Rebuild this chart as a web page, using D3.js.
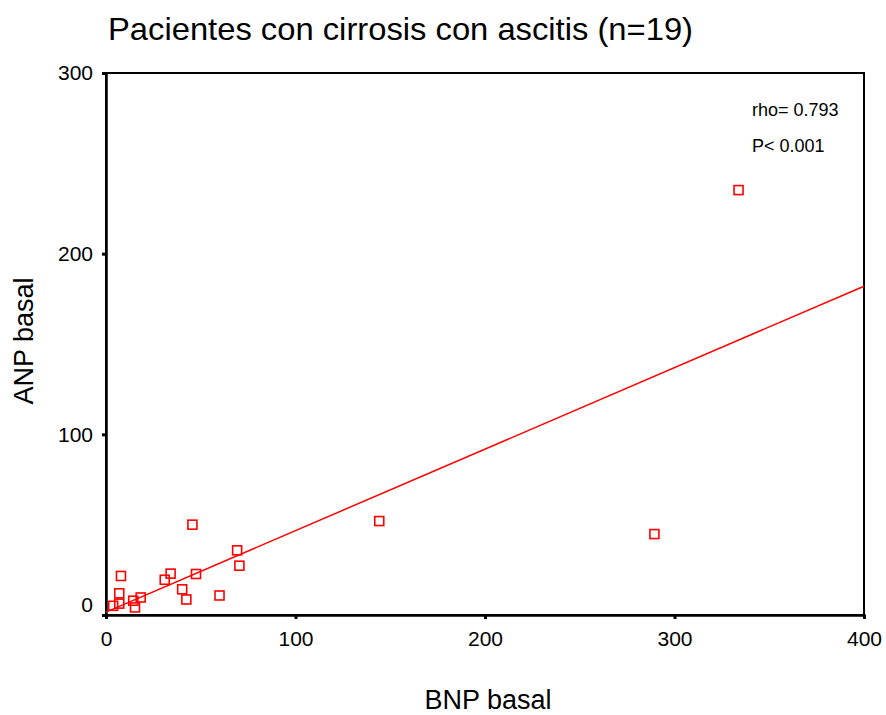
<!DOCTYPE html>
<html><head><meta charset="utf-8">
<script src="https://cdn.jsdelivr.net/npm/d3@7"></script>
<style>body{margin:0;background:#fff}text{font-family:"Liberation Sans",Arial,sans-serif}</style>
</head><body><svg id="c" width="886" height="715"></svg>
<script>
const bnp = [45.6, 69.2, 70.4, 7.9, 34.1, 31.0, 47.5, 40.2, 42.4, 59.9, 7.0, 18.3, 14.4, 15.3, 7.0, 3.8, 333.8, 289.4, 144.2];
const anp = [50.0, 35.8, 27.3, 21.6, 22.9, 19.5, 22.7, 14.2, 8.6, 10.8, 12.0, 9.7, 7.9, 4.2, 6.3, 5.1, 235.2, 44.8, 52.0];
const xTicks = [0, 100, 200, 300, 400];
const yTicks = [0, 100, 200, 300];
const fitIntercept = 1.6, fitSlope = 0.451;
const title = "Pacientes con cirrosis con ascitis (n=19)";
const stats = ["rho= 0.793", "P< 0.001"];

const svg = d3.select("#c");
const L = 106, R = 864, T = 73, B = 615;
const x = d3.scaleLinear().domain([0, 400]).range([L, R]);
const y = d3.scaleLinear().domain([0, 300]).range([B, T]);

svg.append("text").attr("x", 108).attr("y", 40)
  .attr("font-size", 32).attr("textLength", 585).attr("lengthAdjust", "spacingAndGlyphs").text(title);

// frame
svg.append("rect").attr("x", L).attr("y", T).attr("width", R - L).attr("height", B - T)
  .attr("fill", "none").attr("stroke", "#000").attr("stroke-width", 2);

const xa = svg.append("g").attr("transform", `translate(0,${B})`)
  .call(d3.axisBottom(x).tickValues(xTicks).tickSize(4).tickPadding(12).tickFormat(d3.format("d")));
xa.select(".domain").attr("stroke-width", 2.5);
xa.selectAll(".tick line").attr("stroke-width", 3);
xa.selectAll("text").attr("font-size", 21).attr("fill", "#000");

const ya = svg.append("g").attr("transform", `translate(${L},0)`)
  .call(d3.axisLeft(y).tickValues(yTicks).tickSize(4).tickPadding(9).tickFormat(d3.format("d")));
ya.select(".domain").attr("stroke-width", 2.5);
ya.selectAll(".tick line").attr("stroke-width", 3);
ya.selectAll("text").attr("font-size", 21).attr("fill", "#000")
  .attr("dy", d => d === 0 ? "-0.18em" : "0.32em");

svg.append("text").attr("transform", `translate(33,341) rotate(-90)`).attr("text-anchor", "middle")
  .attr("font-size", 27).text("ANP basal");
svg.append("text").attr("x", 488).attr("y", 709).attr("text-anchor", "middle")
  .attr("font-size", 27).text("BNP basal");

svg.selectAll(".st").data(stats).enter().append("text")
  .attr("x", 752).attr("y", (d, i) => 116 + i * 36).attr("font-size", 18).text(d => d);

svg.append("line")
  .attr("x1", x(0)).attr("y1", y(fitIntercept))
  .attr("x2", x(400)).attr("y2", y(fitIntercept + fitSlope * 400))
  .attr("stroke", "#ff0000").attr("stroke-width", 1.5);

svg.selectAll(".pt").data(bnp).enter().append("rect")
  .attr("x", (d, i) => x(d) - 4.5).attr("y", (d, i) => y(anp[i]) - 4.5)
  .attr("width", 9).attr("height", 9)
  .attr("fill", "none").attr("stroke", "#ff0000").attr("stroke-width", 1.6);
</script></body></html>
